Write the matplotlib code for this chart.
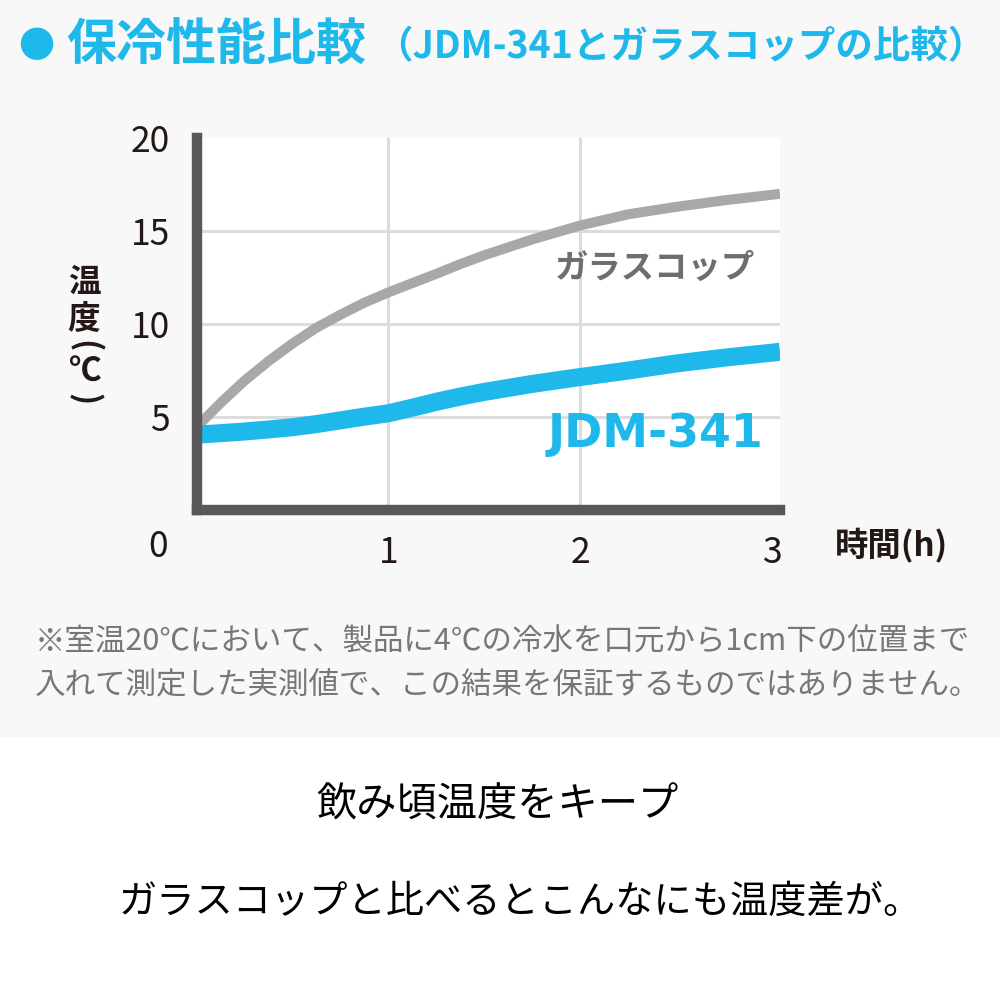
import numpy as np
import matplotlib
matplotlib.use('Agg')
import matplotlib.pyplot as plt
from matplotlib.patches import Rectangle

plt.rcParams['font.family'] = ['Noto Sans CJK JP', 'DejaVu Sans']

# data (hours, deg C)
hours = [0.0, 0.125, 0.25, 0.375, 0.5, 0.625, 0.75, 0.875, 1.0,
         1.125, 1.25, 1.375, 1.5, 1.75, 2.0, 2.25, 2.5, 2.75, 3.0, 3.04]
glass_temp = [4.45, 5.75, 6.95, 8.0, 8.95, 9.8, 10.5, 11.15, 11.7,
              12.2, 12.7, 13.22, 13.7, 14.55, 15.3, 15.9, 16.3, 16.65, 16.95, 17.0]
jdm_temp = [4.05, 4.13, 4.22, 4.33, 4.45, 4.62, 4.82, 5.02, 5.2,
            5.5, 5.82, 6.1, 6.35, 6.78, 7.15, 7.5, 7.88, 8.19, 8.46, 8.51]
x_ticks = [1, 2, 3]
y_ticks = [5, 10, 15, 20]
x_grid = [1, 2]
y_grid = [5, 10, 15]

blue = '#1fb8eb'
grey_line = '#a8a8a8'
dark = '#595757'
txt = '#231815'

fig = plt.figure(figsize=(10, 10), dpi=100, facecolor='white')
# light grey panel behind the chart part
fig.patches.append(Rectangle((0, 0.263), 1, 0.737, transform=fig.transFigure,
                             facecolor='#f8f8f8', edgecolor='none', zorder=-10))

ax = fig.add_axes([0.1965, 0.490, 0.5835, 0.372])
ax.set_zorder(2)
ax.set_facecolor('white')
ax.set_xlim(0, 3.04)
ax.set_ylim(0, 20)

for gx in x_grid:
    ax.axvline(gx, color='#dcdcdc', lw=2.2, zorder=1)
for gy in y_grid:
    ax.axhline(gy, color='#dcdcdc', lw=2.2, zorder=1)

ax.plot(hours, glass_temp, color=grey_line, lw=7.2, solid_capstyle='butt',
        solid_joinstyle='round', zorder=3)
ax.plot(hours, jdm_temp, color=blue, lw=13, solid_capstyle='butt',
        solid_joinstyle='round', zorder=4)

ax.text(2.39, 13.0, 'ガラスコップ', color='#6e6e6e', fontsize=24, fontweight='bold',
        ha='center', va='center', zorder=5)
ax.text(2.39, 4.05, 'JDM-341', color=blue, fontsize=33, fontweight='bold',
        ha='center', va='center', zorder=5, family=['DejaVu Sans'])

for s in ['top', 'right']:
    ax.spines[s].set_visible(False)
for s in ['left', 'bottom']:
    ax.spines[s].set_color(dark)
    ax.spines[s].set_linewidth(7.5)
    ax.spines[s].set_zorder(6)

ax.set_xticks(x_ticks)
ax.set_yticks(y_ticks)
ax.set_xticklabels([str(v) for v in x_ticks])
ax.set_yticklabels([str(v) for v in y_ticks])
ax.tick_params(length=0, labelsize=25.5, labelcolor=txt)
ax.tick_params(axis='x', pad=18)
ax.tick_params(axis='y', pad=19)

# origin label sits with the x labels
fig.text(0.168, 1 - 0.547, '0', fontsize=25.5, color=txt, ha='right', va='center')

# vertical y label (parentheses turned for vertical writing)
ylab_chars = ['温', '度', '(', '℃', ')']
ylab_pos = [0.282, 0.320, 0.346, 0.371, 0.399]
ylab_rot = [0, 0, -90, 0, -90]
for ch, yy, rot in zip(ylab_chars, ylab_pos, ylab_rot):
    fig.text(0.084, 1 - yy, ch, fontsize=23.5, color=txt, ha='center', va='center',
             fontweight='bold', rotation=rot)

fig.text(0.835, 1 - 0.546, '時間(h)', fontsize=24, color=txt, ha='left', va='center',
         fontweight='bold')

# title
fig.text(0.036, 1 - 0.047, '●', fontsize=26, color=blue, ha='center', va='center')
fig.text(0.066, 1 - 0.046, '保冷性能比較', fontsize=36, color=blue, ha='left',
         va='center', fontweight='bold')
fig.text(0.375, 1 - 0.047, '（JDM-341とガラスコップの比較）', fontsize=27, color=blue,
         ha='left', va='center', fontweight='bold')

# footnote
fig.text(0.035, 1 - 0.642, '※室温20℃において、製品に4℃の冷水を口元から1cm下の位置まで',
         fontsize=22, color='#777777', ha='left', va='center')
fig.text(0.035, 1 - 0.685, '入れて測定した実測値で、この結果を保証するものではありません。',
         fontsize=22, color='#777777', ha='left', va='center')

# bottom copy
fig.text(0.497, 1 - 0.805, '飲み頃温度をキープ', fontsize=29, color='black',
         ha='center', va='center')
fig.text(0.52, 1 - 0.902, 'ガラスコップと比べるとこんなにも温度差が。', fontsize=27.5,
         color='black', ha='center', va='center')

fig.savefig('out.png', dpi=100, facecolor=fig.get_facecolor())
